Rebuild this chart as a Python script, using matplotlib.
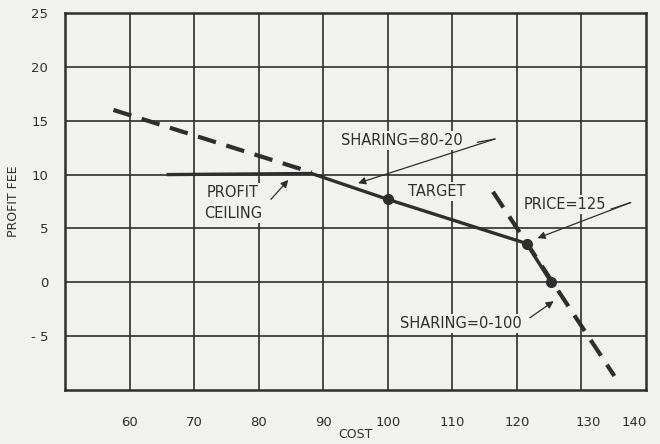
import matplotlib
matplotlib.use("Agg")
import matplotlib.pyplot as plt
import matplotlib.transforms as mtransforms

# ---- data ----
x_ticks = [60, 70, 80, 90, 100, 110, 120, 130, 140]
x_tick_labels = ["60", "70", "80", "90", "100", "110", "120", "130", "140"]
y_ticks = [-5, 0, 5, 10, 15, 20, 25]
y_tick_labels = ["- 5", "0", "5", "10", "15", "20", "25"]

solid_cost = [66, 88.2, 100, 121.5, 125.3]
solid_fee = [10, 10.1, 7.7, 3.6, 0]

dash_upper_cost = [57.5, 88.2]
dash_upper_fee = [16, 10.2]

dash_steep_cost = [116.3, 135.1]
dash_steep_fee = [8.4, -8.7]

dot_cost = [100, 121.5, 125.3]
dot_fee = [7.7, 3.6, 0]

BG = "#f1f1ef"
INK = "#2e2e2e"

fig = plt.figure(figsize=(6.6, 4.44), dpi=100, facecolor=BG)
ax = fig.add_axes([65 / 660, 1 - 390 / 444, 581 / 660, 377 / 444])
ax.set_facecolor(BG)
ax.set_xlim(50, 140)
ax.set_ylim(-10, 25)

# grid
for gx in [60, 70, 80, 90, 100, 110, 120, 130]:
    ax.axvline(gx, color=INK, lw=1.2, zorder=1)
for gy in [-5, 0, 5, 10, 15, 20]:
    ax.axhline(gy, color=INK, lw=1.2, zorder=1)
for s in ax.spines.values():
    s.set_color(INK)
    s.set_linewidth(1.8)

# lines
ax.plot(dash_upper_cost, dash_upper_fee, color=INK, lw=3.0,
        dashes=(4.5, 2.6), solid_capstyle="butt", zorder=3)
ax.plot(dash_steep_cost, dash_steep_fee, color=INK, lw=3.0,
        dashes=(4.5, 2.6), zorder=3)
ax.plot(solid_cost, solid_fee, color=INK, lw=2.4, zorder=4,
        solid_joinstyle="round")
ax.plot(dot_cost, dot_fee, "o", color=INK, ms=7, zorder=5)

# ticks
ax.set_xticks(x_ticks)
ax.set_xticklabels(x_tick_labels)
ax.set_yticks(y_ticks)
ax.set_yticklabels(y_tick_labels)
ax.tick_params(length=0, colors=INK, labelsize=9.5)
ax.tick_params(axis="x", pad=19)
ax.tick_params(axis="y", pad=12)
labels = ax.get_xticklabels()
for lab, dx in [(labels[-2], 7), (labels[-1], -12)]:
    lab.set_transform(lab.get_transform() +
                      mtransforms.ScaledTranslation(dx / 100, 0, fig.dpi_scale_trans))

ax.set_xlabel("COST", fontsize=9, color=INK, labelpad=-1)
ax.set_ylabel("PROFIT FEE", fontsize=9, color=INK, labelpad=8)

txt_kw = dict(fontsize=10.5, color=INK, zorder=6,
              bbox=dict(facecolor=BG, edgecolor="none", pad=1.5))
arrow_kw = dict(arrowstyle="-|>", color=INK, lw=0.9, mutation_scale=11,
                shrinkA=0, shrinkB=0)

ax.text(76, 7.35, "PROFIT\nCEILING", ha="center", va="center",
        linespacing=1.45, **txt_kw)
ax.annotate("", xy=(84.6, 9.5), xytext=(81.9, 7.7), arrowprops=arrow_kw, zorder=6)

ax.text(102.2, 13.2, "SHARING=80-20", ha="center", va="center", **txt_kw)
ax.plot([113.9, 116.6], [13.0, 13.3], color=INK, lw=0.9, zorder=6)
ax.annotate("", xy=(95.4, 9.2), xytext=(116.6, 13.3), arrowprops=arrow_kw, zorder=6)

ax.text(107.6, 8.4, "TARGET", ha="center", va="center", **txt_kw)

ax.text(127.4, 7.2, "PRICE=125", ha="center", va="center", **txt_kw)
ax.plot([134.6, 137.6], [6.8, 7.4], color=INK, lw=0.9, zorder=6)
ax.annotate("", xy=(123.2, 4.1), xytext=(137.6, 7.4), arrowprops=arrow_kw, zorder=6)

ax.text(111.3, -3.8, "SHARING=0-100", ha="center", va="center", **txt_kw)
ax.annotate("", xy=(125.7, -1.75), xytext=(122.0, -3.3), arrowprops=arrow_kw, zorder=6)

fig.savefig("out.png", dpi=100, facecolor=BG)
